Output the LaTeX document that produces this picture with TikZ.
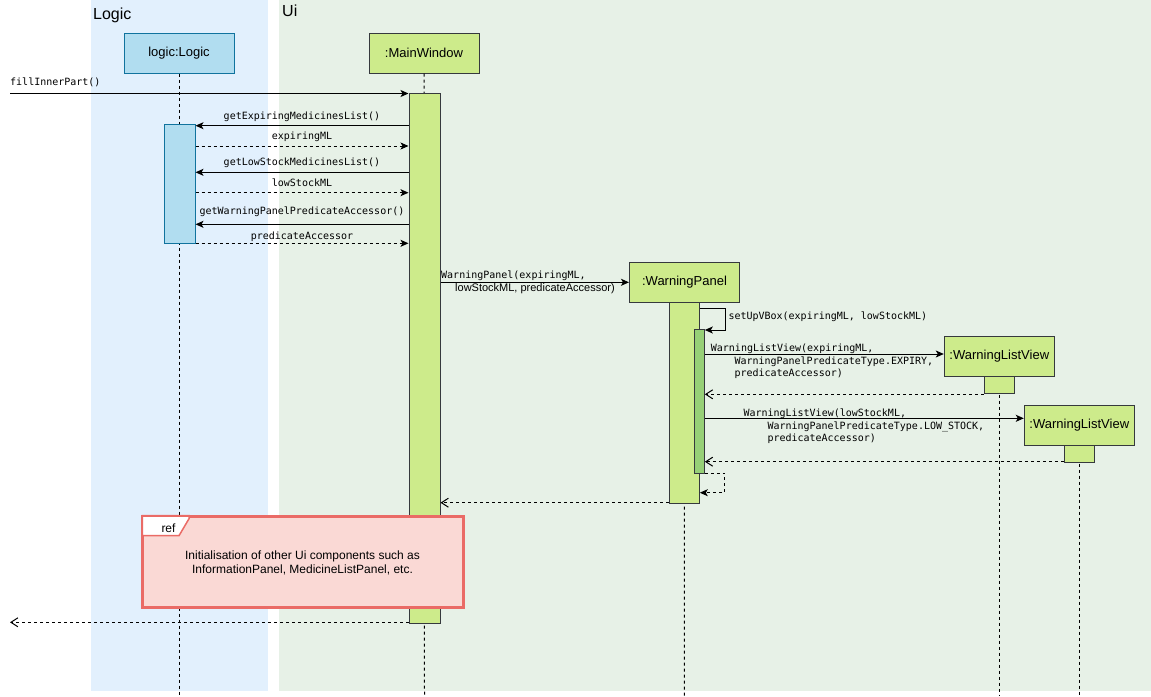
\documentclass[tikz,border=0pt]{standalone}
\usepackage{fontspec}
\setmainfont{Liberation Sans}
\setmonofont{DejaVu Sans Mono}
\usetikzlibrary{arrows.meta}
\definecolor{logiclane}{RGB}{226,240,253}
\definecolor{uilane}{RGB}{231,241,231}
\definecolor{bluefill}{HTML}{B1DDF0}
\definecolor{bluedraw}{HTML}{10739E}
\definecolor{greenfill}{HTML}{CDEB8B}
\definecolor{greendraw}{HTML}{36393D}
\definecolor{darkgreen}{HTML}{97D077}
\definecolor{reffill}{HTML}{FAD9D5}
\definecolor{refdraw}{HTML}{EA6B66}
\tikzset{
  objbox/.style={draw=greendraw, fill=greenfill, line width=1pt, minimum width=110pt, minimum height=40pt, inner sep=0pt, font=\fontsize{13}{15}\selectfont},
  logicbox/.style={objbox, draw=bluedraw, fill=bluefill},
  actbar/.style={draw=greendraw, fill=greenfill, line width=1pt, inner sep=0pt},
  life/.style={line width=1pt, dash pattern=on 3pt off 3pt},
  callmsg/.style={line width=1pt, -{Stealth[length=8pt,width=7pt,inset=2pt]}},
  retfill/.style={callmsg, dash pattern=on 3pt off 3pt},
  retmsg/.style={line width=1pt, dash pattern=on 3pt off 3pt, -{Straight Barb[length=7pt,width=9pt]}},
  msgtxt/.style={font=\ttfamily\fontsize{10}{12}\selectfont, inner sep=0pt},
  sanstxt/.style={font=\fontsize{11}{13}\selectfont, inner sep=0pt},
  lanetitle/.style={font=\fontsize{16}{19}\selectfont, inner sep=0pt, anchor=base west},
}
\begin{document}
\begin{tikzpicture}[x=1pt,y=-1pt]
\useasboundingbox (0,0) rectangle (1151,696);
\fill[white] (0,0) rectangle (1151,696);
% lanes
\fill[logiclane] (91,0) rectangle (268,691);
\fill[uilane] (279,0) rectangle (1151,691);
\node[lanetitle] (logictitle) at (93,19.5) {Logic};
\node[lanetitle] (uititle) at (282,16.5) {Ui};

% lifeline heads
\node[logicbox] (logic) at (179,53) {logic:Logic};
\node[objbox] (mw) at (424,53) {:MainWindow};
\node[objbox] (wp) at (684.5,282) {:WarningPanel};
\node[objbox] (wlv1) at (999.3,356) {:WarningListView};
\node[objbox] (wlv2) at (1079.3,425.2) {:WarningListView};

% lifeline ends
\coordinate (logicend) at (179,696);
\coordinate (mwend) at (424.5,696);
\coordinate (wpend) at (684.3,696);
\coordinate (wlv1end) at (999.3,696);
\coordinate (wlv2end) at (1079.3,696);

% lifelines (behind activations)
\draw[life] (logic.south) -- (logicend);
\draw[life] (mw.south) -- (mwend);
\draw[life] (wp.south) -- (wpend);
\draw[life] (wlv1.south) -- (wlv1end);
\draw[life] (wlv2.south) -- (wlv2end);

% activations
\node[actbar, draw=bluedraw, fill=bluefill, minimum width=31pt, minimum height=119pt] (logica) at (179.5,183.5) {};
\node[actbar, minimum width=31pt, minimum height=530pt] (mwa) at (424.5,358.3) {};
\node[actbar, minimum width=30pt, minimum height=201pt] (wpa) at (684.3,402.6) {};
\node[actbar, fill=darkgreen, minimum width=10pt, minimum height=144pt] (wpb) at (699.3,401.3) {};
\node[actbar, minimum width=30pt, minimum height=17pt] (wlv1a) at (999.3,384.6) {};
\node[actbar, minimum width=30pt, minimum height=17pt] (wlv2a) at (1079.3,453.5) {};

% y levels
\coordinate (start) at (10,93.5);
\coordinate (y1) at (0,125.7);
\coordinate (y2) at (0,146);
\coordinate (y3) at (0,172.3);
\coordinate (y4) at (0,192.7);
\coordinate (y5) at (0,224.3);
\coordinate (y6) at (0,243.3);
\coordinate (y7) at (0,282.3);
\coordinate (ysa) at (0,308.3);
\coordinate (ysb) at (0,330);
\coordinate (y8) at (0,354);
\coordinate (y9) at (0,394.3);
\coordinate (y10) at (0,418.3);
\coordinate (y11) at (0,461.7);
\coordinate (yra) at (0,473.3);
\coordinate (yrb) at (0,492.7);
\coordinate (y12) at (0,502.7);
\coordinate (finend) at (10,622.3);

% messages
\draw[callmsg] (start) -- (mwa.west |- start);
\node[msgtxt, anchor=base west] (lfill) at (10,85.5) {fillInnerPart()};

\draw[callmsg] (mwa.west |- y1) -- (logica.east |- y1);
\node[msgtxt, anchor=base] (l1) at (302,119.5) {getExpiringMedicinesList()};
\draw[retfill] (logica.east |- y2) -- (mwa.west |- y2);
\node[msgtxt, anchor=base] (l2) at (302,139.5) {expiringML};
\draw[callmsg] (mwa.west |- y3) -- (logica.east |- y3);
\node[msgtxt, anchor=base] (l3) at (302,165.5) {getLowStockMedicinesList()};
\draw[retfill] (logica.east |- y4) -- (mwa.west |- y4);
\node[msgtxt, anchor=base] (l4) at (302,186) {lowStockML};
\draw[callmsg] (mwa.west |- y5) -- (logica.east |- y5);
\node[msgtxt, anchor=base] (l5) at (302,214) {getWarningPanelPredicateAccessor()};
\draw[retfill] (logica.east |- y6) -- (mwa.west |- y6);
\node[msgtxt, anchor=base] (l6) at (302,239) {predicateAccessor};

\draw[callmsg] (mwa.east |- y7) -- (wp.west |- y7);
\node[msgtxt, anchor=base west] (l7a) at (441,278) {WarningPanel(expiringML,};
\node[sanstxt, anchor=base west] (l7b) at (455,291.5) {lowStockML, predicateAccessor)};

\draw[callmsg] (wpa.east |- ysa) -- ++(25.4,0) -- ++(0,21.7) -- (wpb.east |- ysb);
\node[msgtxt, anchor=base west] (l8) at (728.3,319.5) {setUpVBox(expiringML, lowStockML)};

\draw[callmsg] (wpb.east |- y8) -- (wlv1.west |- y8);
\node[msgtxt, anchor=base west] (l9a) at (710.7,351.5) {WarningListView(expiringML,};
\node[msgtxt, anchor=base west] (l9b) at (734.3,364) {WarningPanelPredicateType.EXPIRY,};
\node[msgtxt, anchor=base west] (l9c) at (734.3,376) {predicateAccessor)};
\draw[retmsg] (wlv1a.west |- y9) -- (wpb.east |- y9);

\draw[callmsg] (wpb.east |- y10) -- (wlv2.west |- y10);
\node[msgtxt, anchor=base west] (l10a) at (743.3,416) {WarningListView(lowStockML,};
\node[msgtxt, anchor=base west] (l10b) at (767.3,429) {WarningPanelPredicateType.LOW\_STOCK,};
\node[msgtxt, anchor=base west] (l10c) at (767.3,441) {predicateAccessor)};
\draw[retmsg] (wlv2a.west |- y11) -- (wpb.east |- y11);

\draw[retfill] (wpb.east |- yra) -- ++(20,0) -- ++(0,19.4) -- (wpa.east |- yrb);
\draw[retmsg] (wpa.west |- y12) -- (mwa.east |- y12);

% ref frame
\node[draw=refdraw, fill=reffill, line width=2pt, minimum width=320pt, minimum height=90pt, inner sep=0pt] (ref) at (303.3,561.7) {};
\draw[draw=refdraw, fill=white, line width=1.5pt] (ref.north west) -- ++(46.7,0) -- ++(0,3) -- ++(-10,17) -- ++(-36.7,0) -- cycle;
\draw[draw=refdraw, line width=2pt] (ref.north west) rectangle (ref.south east);
\node[anchor=base, font=\fontsize{12}{14}\selectfont, inner sep=0pt] (reflabel) at (168.5,532.5) {ref};
\node[align=center, font=\fontsize{12}{14}\selectfont, inner sep=0pt] (reftext) at (302.5,562.5) {Initialisation of other Ui components such as\\InformationPanel, MedicineListPanel, etc.};

\draw[retmsg] (mwa.west |- finend) -- (finend);
\end{tikzpicture}
\end{document}
